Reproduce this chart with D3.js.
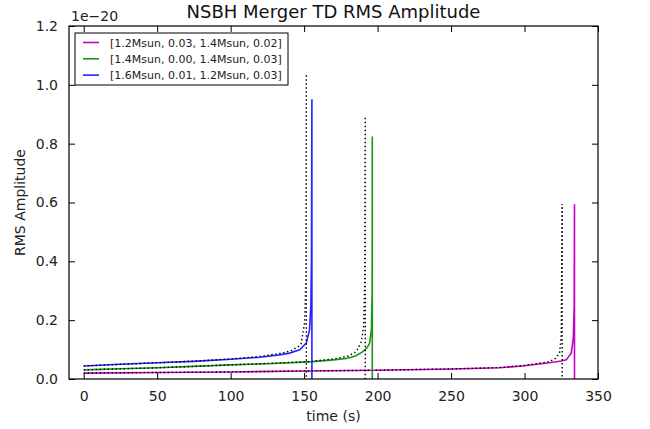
<!DOCTYPE html>
<html>
<head>
<meta charset="utf-8">
<script src="https://cdn.jsdelivr.net/npm/d3@7"></script>
<style>
  body { margin: 0; background: #fff; }
  svg { display: block; font-family: "DejaVu Sans", sans-serif; }
</style>
</head>
<body>
<svg id="chart" width="650" height="429"></svg>
<script>
// ---- data (amplitudes in units of 1e-20) ----
const seriesLabels = ["[1.2Msun, 0.03, 1.4Msun, 0.02]", "[1.4Msun, 0.00, 1.4Msun, 0.03]", "[1.6Msun, 0.01, 1.2Msun, 0.03]"];
const seriesColors = ["#c400c4", "#1a961a", "#2424ff"];

const magentaT = [0, 50, 100, 150, 200, 250, 283, 300, 317, 325, 328.4, 331.8, 333.2, 333.8, 334, 334];
const magentaA = [0.020, 0.022, 0.024, 0.027, 0.030, 0.034, 0.038, 0.045, 0.055, 0.061, 0.065, 0.088, 0.14, 0.25, 0.594, 0];
const magentaModelT = [0, 50, 100, 150, 200, 250, 283, 300, 317, 321, 323.8, 325, 325.6, 325.6];
const magentaModelA = [0.020, 0.022, 0.024, 0.027, 0.030, 0.034, 0.039, 0.046, 0.059, 0.070, 0.087, 0.15, 0.595, 0];

const greenT = [0, 25, 50, 75, 100, 125, 156, 170, 178.7, 185, 190, 193, 194.6, 195.8, 196.3, 196.4, 196.4];
const greenA = [0.031, 0.035, 0.038, 0.043, 0.048, 0.052, 0.059, 0.065, 0.070, 0.078, 0.093, 0.107, 0.122, 0.17, 0.30, 0.824, 0];
const greenModelT = [0, 50, 100, 150, 170, 180, 185.5, 189, 190.5, 191.3, 191.6, 191.6];
const greenModelA = [0.031, 0.038, 0.048, 0.058, 0.068, 0.078, 0.093, 0.127, 0.18, 0.35, 0.892, 0];

const blueT = [0, 25, 50, 75, 100, 120, 133, 140, 147, 151.5, 153.7, 154.6, 155.0, 155.3, 155.3];
const blueA = [0.044, 0.050, 0.055, 0.060, 0.067, 0.074, 0.082, 0.088, 0.099, 0.122, 0.167, 0.25, 0.40, 0.951, 0];
const blueModelT = [0, 25, 50, 75, 100, 120, 135, 142, 146, 148, 150.3, 151.2, 151.5, 151.5];
const blueModelA = [0.044, 0.050, 0.055, 0.061, 0.068, 0.077, 0.088, 0.098, 0.110, 0.12, 0.19, 0.35, 1.037, 0];

const xTicks = [0, 50, 100, 150, 200, 250, 300, 350];
const yTicks = [0.0, 0.2, 0.4, 0.6, 0.8, 1.0, 1.2];
const xDomain = [-10, 350];
const yDomain = [0, 1.2];

// ---- layout ----
const svg = d3.select("#chart");
const L = 69, R = 598, T = 26, B = 379;
const x = d3.scaleLinear().domain(xDomain).range([L, R]);
const y = d3.scaleLinear().domain(yDomain).range([B, T]);

const solids = [[magentaT, magentaA], [greenT, greenA], [blueT, blueA]];
const models = [[magentaModelT, magentaModelA], [greenModelT, greenModelA], [blueModelT, blueModelA]];

const line = d3.line().x(d => x(d[0])).y(d => y(d[1]));
const zip = (t, a) => t.map((v, i) => [v, a[i]]);

const plot = svg.append("g");
solids.forEach((s, i) => {
  plot.append("path").datum(zip(s[0], s[1]))
    .attr("d", line).attr("fill", "none")
    .attr("stroke", seriesColors[i]).attr("stroke-width", 1.6);
  const m = models[i];
  plot.append("path").datum(zip(m[0], m[1]))
    .attr("d", line).attr("fill", "none")
    .attr("stroke", "#000").attr("stroke-width", 1.4)
    .attr("stroke-dasharray", "1.4,2.6");
});

// ---- axes (ticks inside on all four sides) ----
const tl = 6;
const fmtY = d3.format(".1f");
const axB = svg.append("g").attr("transform", `translate(0,${B})`)
  .call(d3.axisBottom(x).tickValues(xTicks).tickSize(-tl).tickPadding(tl + 6).tickFormat(d3.format("d")));
const axT = svg.append("g").attr("transform", `translate(0,${T})`)
  .call(d3.axisTop(x).tickValues(xTicks).tickSize(-tl).tickFormat(""));
const axL = svg.append("g").attr("transform", `translate(${L},0)`)
  .call(d3.axisLeft(y).tickValues(yTicks).tickSize(-tl).tickPadding(tl + 5).tickFormat(fmtY));
const axR = svg.append("g").attr("transform", `translate(${R},0)`)
  .call(d3.axisRight(y).tickValues(yTicks).tickSize(-tl).tickFormat(""));
[axB, axT, axL, axR].forEach(a => {
  a.select(".domain").remove();
  a.selectAll("line").attr("stroke", "#000").attr("stroke-width", 1);
  a.selectAll("text").attr("fill", "#222").style("font-size", "14px").style("font-family", "DejaVu Sans");
});
svg.append("rect").attr("x", L).attr("y", T).attr("width", R - L).attr("height", B - T)
  .attr("fill", "none").attr("stroke", "#000").attr("stroke-width", 1.2);

// offset text
svg.append("text").attr("x", L + 2).attr("y", 21).text("1e\u221220")
  .attr("fill", "#222").style("font-size", "14px");

// title and labels
svg.append("text").attr("x", (L + R) / 2).attr("y", 18).attr("text-anchor", "middle")
  .text("NSBH Merger TD RMS Amplitude").style("font-size", "18px").attr("fill", "#111");
svg.append("text").attr("x", (L + R) / 2).attr("y", 421).attr("text-anchor", "middle")
  .text("time (s)").style("font-size", "14px").attr("fill", "#222");
svg.append("text").attr("transform", `translate(25,${(T + B) / 2}) rotate(-90)`).attr("text-anchor", "middle")
  .text("RMS Amplitude").style("font-size", "14px").attr("fill", "#222");

// legend
const lg = svg.append("g");
lg.append("rect").attr("x", 75).attr("y", 33).attr("width", 213).attr("height", 52)
  .attr("fill", "#fff").attr("stroke", "#000").attr("stroke-width", 1);
seriesLabels.forEach((lab, i) => {
  const yy = 42.5 + i * 16.3;
  lg.append("line").attr("x1", 83).attr("x2", 99).attr("y1", yy).attr("y2", yy)
    .attr("stroke", seriesColors[i]).attr("stroke-width", 1.6);
  lg.append("text").attr("x", 110).attr("y", yy + 4).text(lab)
    .style("font-size", "11px").attr("fill", "#222");
});
</script>
</body>
</html>
